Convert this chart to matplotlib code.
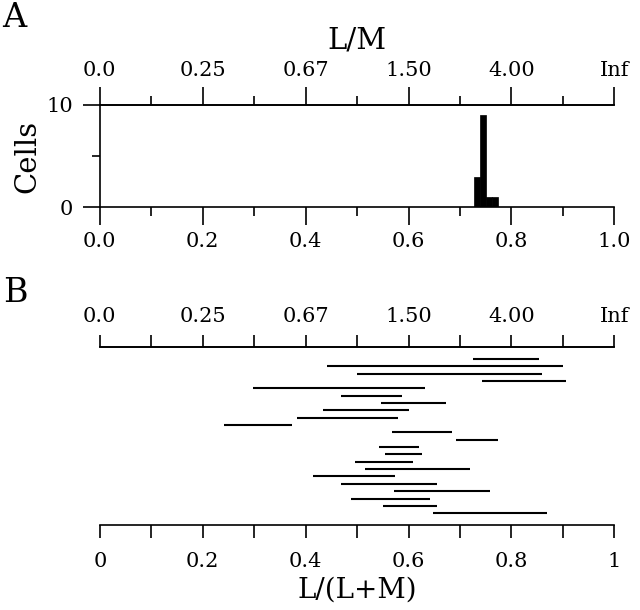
import numpy as np
import matplotlib
matplotlib.use('Agg')
import matplotlib.pyplot as plt

plt.rcParams['font.family'] = ['DejaVu Serif']

# histogram of L/(L+M) weights (panel A)
bin_left = [0.727, 0.739, 0.751, 0.762]
bin_count = [3, 9, 1, 1]
bin_width = 0.0115

# per-cell ranges of L/(L+M) (panel B), top to bottom
cell_lo = [0.725, 0.442, 0.500, 0.742, 0.298, 0.468, 0.547, 0.434, 0.384, 0.241, 0.567,
           0.692, 0.542, 0.555, 0.495, 0.515, 0.414, 0.468, 0.572, 0.489, 0.551, 0.648]
cell_hi = [0.854, 0.900, 0.860, 0.905, 0.632, 0.587, 0.672, 0.600, 0.580, 0.374, 0.684,
           0.773, 0.620, 0.626, 0.609, 0.720, 0.574, 0.656, 0.758, 0.642, 0.656, 0.869]

top_ticks = [0.0, 0.2, 0.4, 0.6, 0.8, 1.0]
top_labels = ['0.0', '0.25', '0.67', '1.50', '4.00', 'Inf']
minor_ticks = [0.1, 0.3, 0.5, 0.7, 0.9]

fs = 15
lfs = 21
lw = 1.2

fig = plt.figure(figsize=(6.4, 6.1), dpi=100)

# ---- panel A
axA = fig.add_axes([0.156, 0.660, 0.804, 0.168])
axA.bar(bin_left, bin_count, width=bin_width, align='edge', color='black', edgecolor='black', linewidth=0.5)
axA.set_xlim(0, 1)
axA.set_ylim(0, 10)
axA.spines['right'].set_visible(False)
for s in ['left', 'top', 'bottom']:
    axA.spines[s].set_linewidth(lw)
axA.set_xticks(top_ticks)
axA.set_xticklabels(['0.0', '0.2', '0.4', '0.6', '0.8', '1.0'], fontsize=fs)
axA.set_xticks(minor_ticks, minor=True)
axA.set_yticks([0, 10])
axA.set_yticklabels(['0', '10'], fontsize=fs)
axA.set_yticks([5], minor=True)
axA.tick_params(axis='x', which='major', direction='out', length=13, width=lw, pad=5)
axA.tick_params(axis='x', which='minor', direction='out', length=6.5, width=lw)
axA.tick_params(axis='y', which='major', direction='out', length=12, width=lw, pad=7)
axA.tick_params(axis='y', which='minor', direction='out', length=6, width=lw)
axA.set_ylabel('Cells', fontsize=lfs, labelpad=4)

topA = axA.secondary_xaxis('top')
topA.set_xticks(top_ticks)
topA.set_xticklabels(top_labels, fontsize=fs)
topA.set_xticks(minor_ticks, minor=True)
topA.tick_params(axis='x', which='major', direction='out', length=13, width=lw, pad=5)
topA.tick_params(axis='x', which='minor', direction='out', length=6.5, width=lw)
topA.spines['top'].set_linewidth(lw)
topA.set_xlabel('L/M', fontsize=lfs, labelpad=9)

# ---- panel B
axB = fig.add_axes([0.156, 0.139, 0.804, 0.292])
ypos = np.arange(len(cell_lo))
axB.hlines(ypos, cell_lo, cell_hi, color='black', linewidth=1.5)
axB.set_xlim(0, 1)
axB.set_ylim(len(cell_lo) - 1 + 1.64, -1.64)
axB.spines['left'].set_visible(False)
axB.spines['right'].set_visible(False)
axB.spines['bottom'].set_linewidth(lw)
axB.spines['top'].set_linewidth(lw)
axB.set_yticks([])
all_ticks = np.round(np.arange(0, 1.01, 0.1), 2)
axB.set_xticks(all_ticks)
axB.set_xticklabels(['0', '', '0.2', '', '0.4', '', '0.6', '', '0.8', '', '1'], fontsize=fs)
axB.tick_params(axis='x', direction='out', length=9, width=lw, pad=10)
axB.set_xlabel('L/(L+M)', fontsize=20, labelpad=4)

topB = axB.secondary_xaxis('top')
topB.set_xticks(all_ticks)
topB.set_xticklabels(['0.0', '', '0.25', '', '0.67', '', '1.50', '', '4.00', '', 'Inf'], fontsize=fs)
topB.tick_params(axis='x', direction='out', length=9, width=lw, pad=6)
topB.spines['top'].set_linewidth(lw)

fig.text(0.003, 0.956, 'A', fontsize=24, va='baseline')
fig.text(0.005, 0.505, 'B', fontsize=24, va='baseline')

fig.savefig('out.png', dpi=100)
